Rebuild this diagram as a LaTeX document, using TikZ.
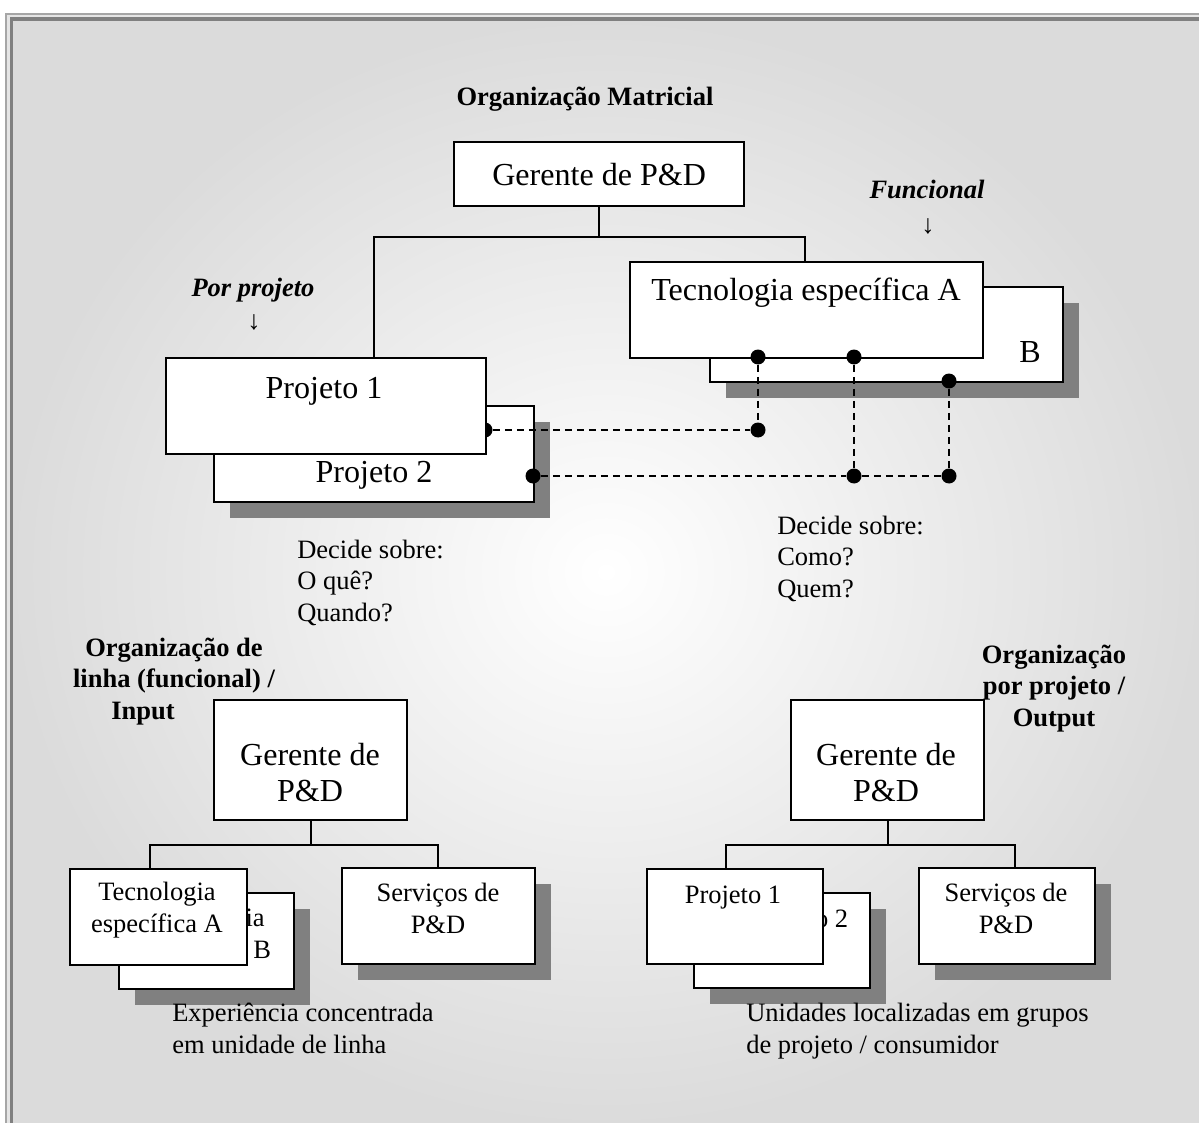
\documentclass[tikz,border=0pt]{standalone}
\usepackage{fontspec}
\setmainfont{Liberation Serif}
\usetikzlibrary{shadows}
\newlength\px
\setlength\px{0.025cm}
\newcommand\grande{\fontsize{22.8}{25.6}\selectfont}
\newcommand\pequeno{\fontsize{18.85}{22.4}\selectfont}
\tikzset{
  caixa/.style={draw, fill=white, line width=2.2\px, anchor=north west, inner sep=0pt},
  sombra/.style={drop shadow={shadow xshift=16\px, shadow yshift=-16\px, fill=black!50, opacity=1}},
  txtG/.style={font=\grande, inner sep=0pt},
  txtP/.style={font=\pequeno, inner sep=0pt},
  ponto/.style={circle, fill=black, inner sep=0pt, minimum size=15\px},
  tracejado/.style={line width=1.6\px, dash pattern=on 7\px off 5\px},
  linha/.style={line width=2\px}
}
\begin{document}
\begin{tikzpicture}[x=0.025cm, y=-0.025cm]
  \useasboundingbox (0,0) rectangle (1199,1123);
  \clip (0,0) rectangle (1199,1123);
  % fundo e moldura
  \fill[black!10] (5,13) rectangle (1199,1123);
  \shade[inner color=white, outer color=black!14] (13,21) rectangle (1199,1123);
  \draw[black!35, line width=2\px] (6,1130) -- (6,14) -- (1210,14);
  \draw[black!50, line width=3.5\px] (11.5,1130) -- (11.5,19) -- (1210,19);

  % organizacao matricial
  \node[txtP, font=\pequeno\bfseries, anchor=base] (titulo) at (585,106) {Organização Matricial};
  \node[caixa, txtG, minimum width=290\px, minimum height=64\px] (ger) at (453,141) {Gerente de P\&D};
  \node[txtP, font=\pequeno\bfseries\itshape, anchor=base] (funcional) at (927,199) {Funcional};
  \node[txtP] (seta1) at (928,226) {↓};
  \node[txtP, font=\pequeno\bfseries\itshape, anchor=base] (porprojeto) at (253,296) {Por projeto};
  \node[txtP] (seta2) at (254,322) {↓};

  \node[caixa, sombra, minimum width=353\px, minimum height=95\px] (tecB) at (709,286) {};
  \node[caixa, minimum width=353\px, minimum height=96\px] (tecA) at (629,261) {};
  \node[caixa, sombra, minimum width=320\px, minimum height=96\px] (proj2) at (213,405) {};
  \node[ponto] (d1) at (485,430) {};
  \node[caixa, minimum width=320\px, minimum height=96\px] (proj1) at (165,357) {};

  \node[txtG, anchor=base] (ttecA) at (806,301) {Tecnologia específica A};
  \node[txtG, anchor=base] (ttecB) at (1030,362) {B};
  \node[txtG, anchor=base] (tproj1) at (324,398) {Projeto 1};
  \node[txtG, anchor=base] (tproj2) at (374,482) {Projeto 2};

  \coordinate (barraE) at (374,237);
  \coordinate (barraD) at (805,237);
  \draw[linha] (ger.south) -- (ger.south |- barraE);
  \draw[linha] (proj1.north -| barraE) -- (barraE) -- (barraD) -- (tecA.north -| barraD);

  \node[ponto] (d2) at (533,476) {};
  \node[ponto] (t1) at (758,357) {};
  \node[ponto] (t2) at (854,357) {};
  \node[ponto] (t3) at (949,381) {};
  \node[ponto] (m1) at (758,430) {};
  \node[ponto] (m2) at (854,476) {};
  \node[ponto] (m3) at (949,476) {};
  \draw[tracejado] (d1) -- (m1);
  \draw[tracejado] (d2) -- (m2) -- (m3);
  \draw[tracejado] (t1) -- (m1);
  \draw[tracejado] (t2) -- (m2);
  \draw[tracejado] (t3) -- (m3);

  % base = linha de base da ultima linha
  \node[txtP, anchor=base west, align=left] (decide1) at (297,621) {Decide sobre:\\O quê?\\Quando?};
  \node[txtP, anchor=base west, align=left] (decide2) at (777,597) {Decide sobre:\\Como?\\Quem?};

  % organizacao de linha / input
  \node[txtP, font=\pequeno\bfseries, align=center, anchor=base] (rotuloE) at (174,719)
    {Organização de\\linha (funcional) /\\Input\rule{62\px}{0pt}};
  \node[caixa, minimum width=193\px, minimum height=120\px] (gerE) at (213,699) {};
  \node[txtG, anchor=base, align=center] (tgerE) at (310,801) {Gerente de\\P\&D};
  \node[caixa, sombra, minimum width=175\px, minimum height=96\px] (tecBE) at (118,892) {};
  \node[txtP, anchor=base, align=center] (ttecBE) at (206,958) {Tecnologia\\específica B};
  \node[caixa, minimum width=177\px, minimum height=96\px] (tecAE) at (69,868) {};
  \node[txtP, anchor=base, align=center] (ttecAE) at (157,932) {Tecnologia\\específica A};
  \node[caixa, sombra, minimum width=193\px, minimum height=96\px] (servE) at (341,867) {};
  \node[txtP, anchor=base, align=center] (tservE) at (438,933) {Serviços de\\P\&D};
  \coordinate (barraLE) at (150,845);
  \coordinate (barraLD) at (438,845);
  \draw[linha] (gerE.south) -- (gerE.south |- barraLE);
  \draw[linha] (tecAE.north -| barraLE) -- (barraLE) -- (barraLD) -- (servE.north -| barraLD);
  \node[txtP, anchor=base west, align=left] (legE) at (172,1053) {Experiência concentrada\\em unidade de linha};

  % organizacao por projeto / output
  \node[txtP, font=\pequeno\bfseries, align=center, anchor=base] (rotuloD) at (1054,726)
    {Organização\\por projeto /\\Output};
  \node[caixa, minimum width=193\px, minimum height=120\px] (gerD) at (790,699) {};
  \node[txtG, anchor=base, align=center] (tgerD) at (886,801) {Gerente de\\P\&D};
  \node[caixa, sombra, minimum width=176\px, minimum height=95\px] (proj2D) at (693,892) {};
  \node[txtP, anchor=base] (tproj2D) at (800,927) {Projeto 2};
  \node[caixa, minimum width=176\px, minimum height=95\px] (proj1D) at (646,868) {};
  \node[txtP, anchor=base] (tproj1D) at (733,903) {Projeto 1};
  \node[caixa, sombra, minimum width=176\px, minimum height=96\px] (servD) at (918,867) {};
  \node[txtP, anchor=base, align=center] (tservD) at (1006,933) {Serviços de\\P\&D};
  \coordinate (barraRE) at (726,845);
  \coordinate (barraRD) at (1015,845);
  \draw[linha] (gerD.south) -- (gerD.south |- barraRE);
  \draw[linha] (proj1D.north -| barraRE) -- (barraRE) -- (barraRD) -- (servD.north -| barraRD);
  \node[txtP, anchor=base west, align=left] (legD) at (746,1053) {Unidades localizadas em grupos\\de projeto / consumidor};
\end{tikzpicture}
\end{document}
